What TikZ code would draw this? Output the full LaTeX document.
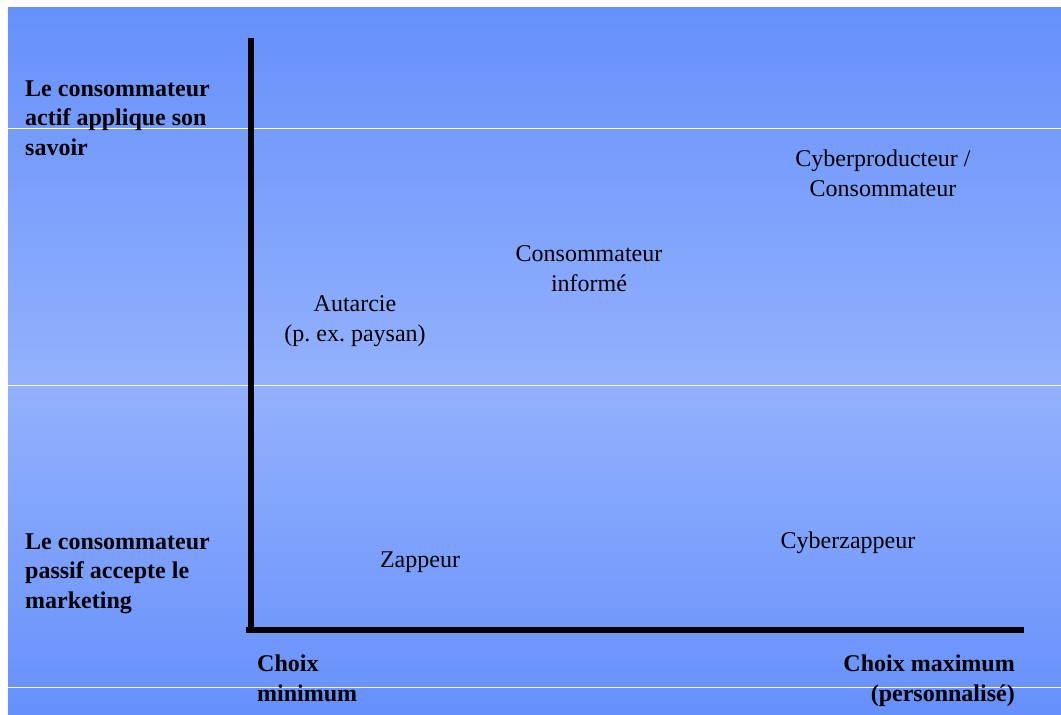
\documentclass[tikz,border=0pt]{standalone}
\usepackage{fontspec}
\setmainfont{Liberation Serif}
\frenchspacing
\begin{document}
\definecolor{bgdark}{HTML}{6690FB}
\definecolor{bglight}{HTML}{93B1FC}
\begin{tikzpicture}[x=1pt,y=-1pt,
  lbl/.style={inner sep=0pt,font=\fontsize{24}{29.5}\selectfont},
  side/.style={lbl,font=\fontsize{24}{29.5}\selectfont\bfseries,align=left,anchor=base west},
  item/.style={lbl,align=center,anchor=base},
  axis/.style={line width=6pt}]
  \useasboundingbox (0,0) rectangle (1061,715);
  % background bands
  \fill[white] (0,0) rectangle (1061,715);
  \shade[top color=bgdark,bottom color=bglight] (8,7) rectangle (1061,385);
  \shade[top color=bglight,bottom color=bgdark] (8,385) rectangle (1061,715);
  \foreach \yy in {128,385,687} \draw[white,line width=1pt] (8,\yy) -- (1061,\yy);
  % axes
  \coordinate (top) at (251,38);
  \coordinate (origin) at (251,630);
  \coordinate (right) at (1024,630);
  \draw[axis] (top) -- (251,633);
  \draw[axis] (246,630) -- (right);
  % axis labels (base anchor = baseline of the last line)
  \node[side] (actif) at (25,155) {Le consommateur\\actif applique son\\savoir};
  \node[side] (passif) at (25,608) {Le consommateur\\passif accepte le\\marketing};
  \node[side] (cmin) at (257,701) {Choix\\minimum};
  \node[lbl,font=\fontsize{24}{29.5}\selectfont\bfseries,align=right,anchor=base east] (cmax) at (1015,701) {Choix maximum\\(personnalisé)};
  % consumer types
  \node[item] (cyberprod) at (883,196) {Cyberproducteur /\\Consommateur};
  \node[item] (informe) at (589,291) {Consommateur\\informé};
  \node[item] (autarcie) at (355,341) {Autarcie\\(p. ex. paysan)};
  \node[item] (zappeur) at (420,567) {Zappeur};
  \node[item] (cyberzap) at (848,548) {Cyberzappeur};
\end{tikzpicture}
\end{document}
